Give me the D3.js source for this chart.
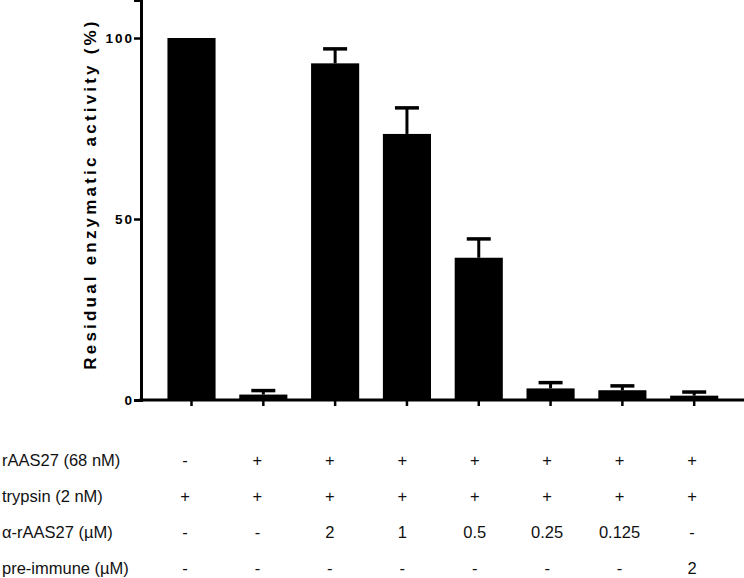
<!DOCTYPE html>
<html>
<head>
<meta charset="utf-8">
<script src="https://cdn.jsdelivr.net/npm/d3@7"></script>
<style>
  body { margin: 0; background: #fff; }
  svg { display: block; }
</style>
</head>
<body>
<svg id="chart" width="744" height="578"></svg>
<script>
// data
var groups = ["g1", "g2", "g3", "g4", "g5", "g6", "g7", "g8"];
var activity = [100, 1.5, 93, 73.5, 39.3, 3.2, 2.7, 1.2];
var errors = [0, 1.1, 4, 7.2, 5.2, 1.6, 1.2, 1.0];
var yTicks = [0, 50, 100];

var rowLabels = ["rAAS27 (68 nM)", "trypsin (2 nM)", "\u03b1-rAAS27 (\u00b5M)", "pre-immune (\u00b5M)"];
var rAAS27 = ["-", "+", "+", "+", "+", "+", "+", "+"];
var trypsin = ["+", "+", "+", "+", "+", "+", "+", "+"];
var antibody = ["-", "-", "2", "1", "0.5", "0.25", "0.125", "-"];
var preImmune = ["-", "-", "-", "-", "-", "-", "-", "2"];

var margin = {top: 0, right: 0, bottom: 178, left: 141},
    width = 744,
    height = 578;

var svg = d3.select("#chart");

// scales
var x = d3.scaleBand().domain(groups).range([155.6, 730.1]).paddingInner(0.33).paddingOuter(0.165);
var y = d3.scaleLinear().domain([0, 110.5]).range([400, 0]);

// bars
svg.append("g").selectAll("rect")
    .data(groups)
  .enter().append("rect")
    .attr("x", function(d) { return x(d); })
    .attr("width", x.bandwidth())
    .attr("y", function(d, i) { return y(activity[i]); })
    .attr("height", function(d, i) { return y(0) - y(activity[i]); })
    .attr("fill", "#000");

// error bars (upper only)
var eb = svg.append("g").selectAll("g")
    .data(groups.filter(function(d, i) { return errors[i] > 0; }))
  .enter().append("g");
eb.append("line")
    .attr("x1", function(d) { return x(d) + x.bandwidth() / 2; })
    .attr("x2", function(d) { return x(d) + x.bandwidth() / 2; })
    .attr("y1", function(d) { var i = groups.indexOf(d); return y(activity[i]); })
    .attr("y2", function(d) { var i = groups.indexOf(d); return y(activity[i] + errors[i]); })
    .attr("stroke", "#000").attr("stroke-width", 3);
eb.append("line")
    .attr("x1", function(d) { return x(d) + x.bandwidth() / 2 - 12; })
    .attr("x2", function(d) { return x(d) + x.bandwidth() / 2 + 12; })
    .attr("y1", function(d) { var i = groups.indexOf(d); return y(activity[i] + errors[i]); })
    .attr("y2", function(d) { var i = groups.indexOf(d); return y(activity[i] + errors[i]); })
    .attr("stroke", "#000").attr("stroke-width", 3.5);

// y axis
var yAxis = svg.append("g")
    .attr("transform", "translate(" + margin.left + ",0)")
    .call(d3.axisLeft(y).tickValues(yTicks).tickSize(7).tickPadding(0));
yAxis.select(".domain").attr("stroke-width", 3);
yAxis.selectAll(".tick line").attr("stroke-width", 2.5);
yAxis.selectAll("text")
    .attr("font-family", "Liberation Sans, Arial, sans-serif")
    .attr("font-weight", "bold")
    .attr("font-size", 13.5)
    .attr("letter-spacing", 2)
    .attr("fill", "#000");

// x axis
var xAxis = svg.append("g")
    .attr("transform", "translate(0," + y(0) + ")")
    .call(d3.axisBottom(x).tickSize(6).tickFormat(""));
xAxis.select(".domain").remove();
xAxis.selectAll(".tick line").attr("stroke-width", 2.5);
svg.append("line")
    .attr("x1", margin.left - 1.5).attr("x2", width)
    .attr("y1", y(0)).attr("y2", y(0))
    .attr("stroke", "#000").attr("stroke-width", 3);

// y label
svg.append("text")
    .attr("transform", "translate(96,194) rotate(-90)")
    .attr("text-anchor", "middle")
    .attr("font-family", "Liberation Sans, Arial, sans-serif")
    .attr("font-weight", "bold")
    .attr("font-size", 17)
    .attr("letter-spacing", 3.2)
    .text("Residual enzymatic activity (%)");

// condition table
var col = d3.scalePoint().domain(groups).range([185, 692]);
var rowY = [466, 502, 538, 574];
var rows = [rAAS27, trypsin, antibody, preImmune];
var tableFont = "Liberation Sans Narrow, Arial Narrow, Liberation Sans, sans-serif";

svg.append("g").selectAll("text")
    .data(rowLabels)
  .enter().append("text")
    .attr("x", 2)
    .attr("y", function(d, i) { return rowY[i]; })
    .attr("font-family", tableFont)
    .attr("font-size", 16.5)
    .attr("fill", "#111")
    .text(function(d) { return d; });

rows.forEach(function(r, ri) {
  svg.append("g").selectAll("text")
      .data(r)
    .enter().append("text")
      .attr("x", function(d, i) { return col(groups[i]); })
      .attr("y", rowY[ri])
      .attr("text-anchor", "middle")
      .attr("font-family", tableFont)
      .attr("font-size", 16.5)
      .attr("fill", "#111")
      .text(function(d) { return d; });
});
</script>
</body>
</html>
